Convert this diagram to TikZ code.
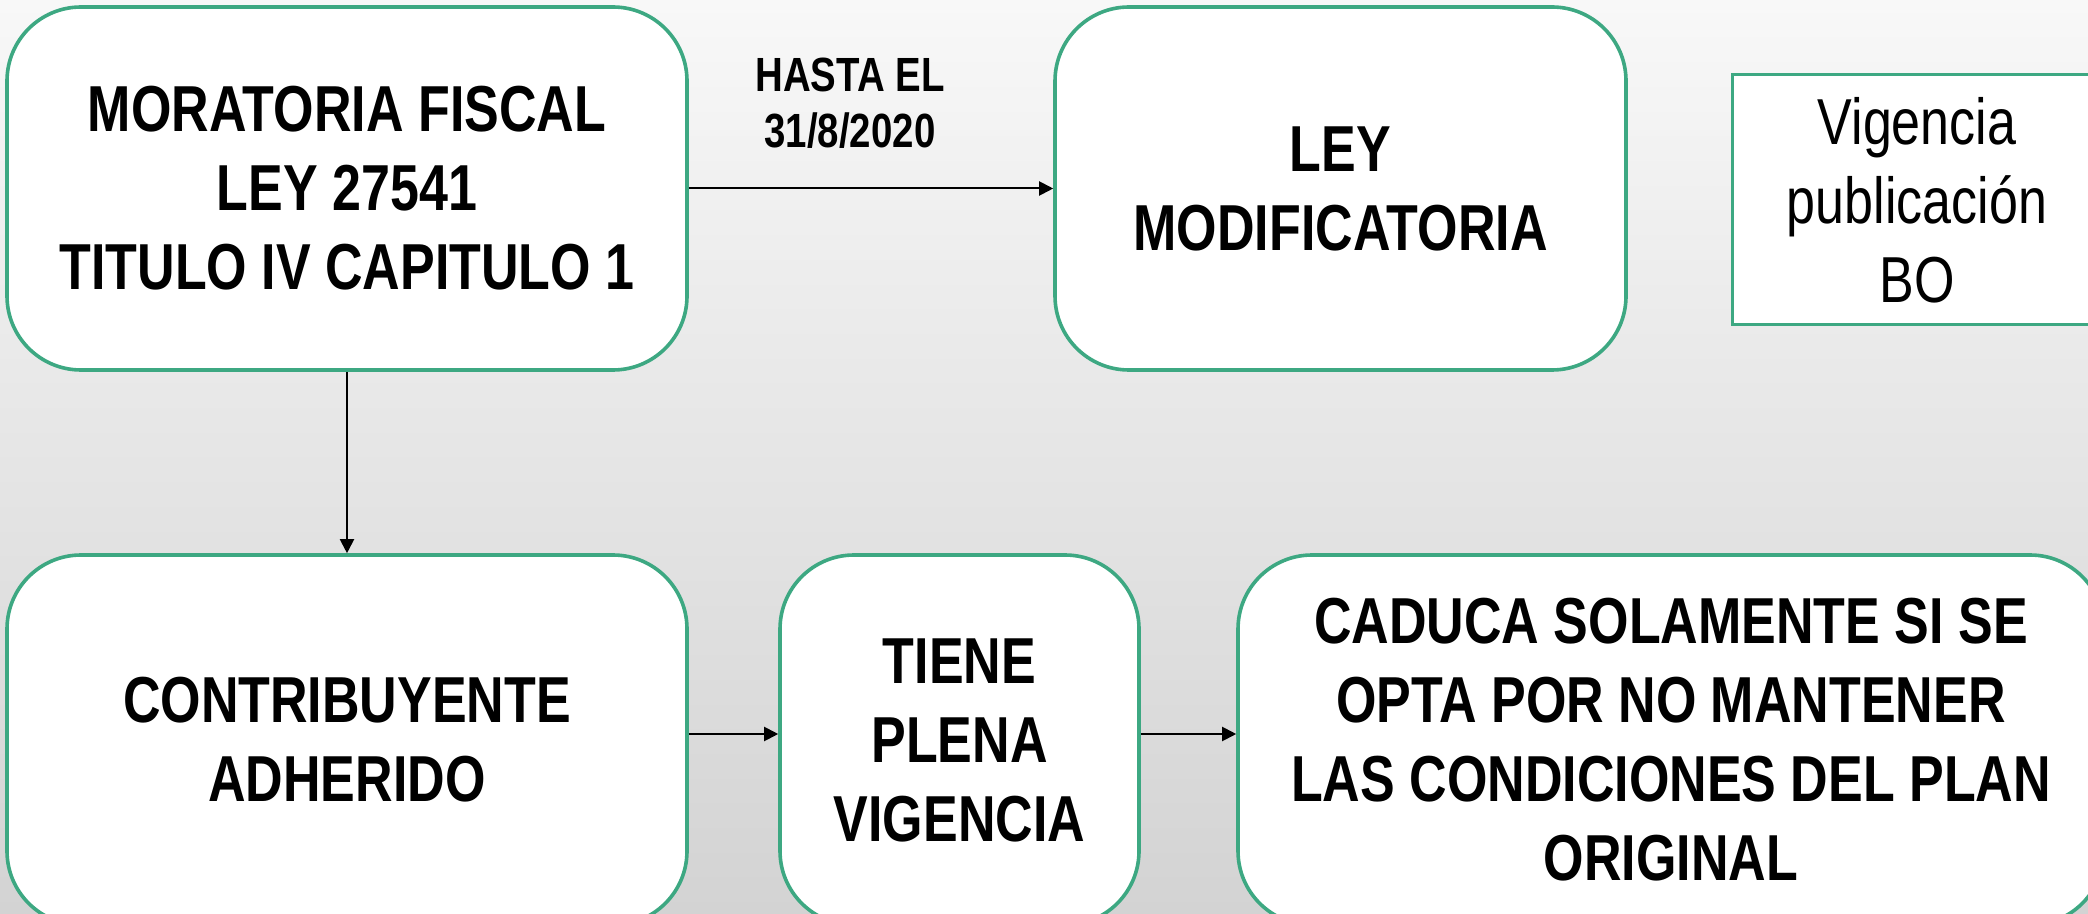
\documentclass[tikz,border=0pt]{standalone}
\usepackage{fontspec}
\newfontfamily\narrowsans[FakeStretch=0.8]{Liberation Sans}
\usetikzlibrary{arrows.meta}
\usepackage{xcolor}
\definecolor{leaf}{HTML}{3DA882}
\definecolor{skytop}{HTML}{F8F8F8}
\definecolor{skybot}{HTML}{D3D3D3}

\tikzset{
	card/.style={draw=leaf,line width=1.8pt,fill=white,rounded corners=37pt,align=center,
		font=\narrowsans\bfseries\fontsize{32.5}{39.5}\selectfont},
	note/.style={draw=leaf,line width=1.5pt,fill=white,align=center,
		font=\narrowsans\fontsize{32.5}{39.5}\selectfont},
	link/.style={-{Triangle[length=7pt,width=7pt]},line width=1pt},
}

\begin{document}
\begin{tikzpicture}[x=0.5pt,y=-0.5pt]
		\clip (0,0) rectangle (2088,914);
		\shade[top color=skytop,bottom color=skybot] (0,0) rectangle (2088,914);
		%top row
		\node[card,minimum width=340pt,minimum height=181.5pt] (moratoria) at (347,188.5) {MORATORIA FISCAL\\LEY 27541\\TITULO IV CAPITULO 1};
		\node[card,minimum width=285.5pt,minimum height=181.5pt] (ley) at (1340.5,188.5) {LEY\\MODIFICATORIA};
		\node[note,minimum width=185pt,minimum height=125pt] (publicacion) at (1917,200) {Vigencia\\publicación\\BO};
		%bottom row
		\node[card,minimum width=340pt,minimum height=185pt] (adherido) at (347,740) {CONTRIBUYENTE\\ADHERIDO};
		\node[card,minimum width=179.5pt,minimum height=185pt] (plena) at (959.5,740) {TIENE\\PLENA\\VIGENCIA};
		\node[card,minimum width=433pt,minimum height=185pt] (caduca) at (1671,740) {CADUCA SOLAMENTE SI SE\\OPTA POR NO MANTENER\\LAS CONDICIONES DEL PLAN\\ORIGINAL};
		%label
		\node[align=center,font=\narrowsans\bfseries\fontsize{24}{28}\selectfont] (plazo) at (850,103) {HASTA EL\\31/8/2020};
		%arrows
		\draw[link] (moratoria) -- (ley);
		\draw[link] (moratoria) -- (adherido);
		\draw[link] ([yshift=3pt]adherido.east) -- ([yshift=3pt]plena.west);
		\draw[link] ([yshift=3pt]plena.east) -- ([yshift=3pt]caduca.west);
\end{tikzpicture}
\end{document}
